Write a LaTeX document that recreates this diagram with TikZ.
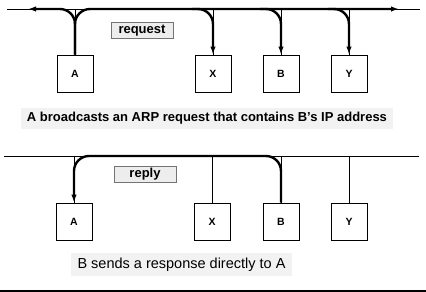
\documentclass[tikz,border=0pt]{standalone}
\usepackage{fontspec}
\setmainfont{Liberation Sans}
\usetikzlibrary{arrows.meta}
\begin{document}
\begin{tikzpicture}[x=1pt,y=-1pt,
  host/.style={draw,line width=0.8pt,minimum width=36pt,minimum height=37pt,inner sep=0pt,font=\fontsize{10.5}{12}\selectfont\bfseries},
  thin/.style={line width=0.8pt},
  heavy/.style={line width=2.4pt,rounded corners=15pt},
  tip/.style={-{Latex[length=8pt,width=5.5pt]}},
  tag/.style={draw=black!55,fill=black!7,line width=0.6pt,minimum width=62pt,minimum height=16pt,inner sep=0pt,font=\fontsize{13}{14}\selectfont\bfseries},
  caption/.style={fill=black!5,inner sep=0pt}]
\useasboundingbox (0,0) rectangle (426,292);
% top
\coordinate (bl1) at (7,9);
\coordinate (br1) at (420,9);
\coordinate (tl1) at (28,9);
\coordinate (tr1) at (399,9);
\coordinate (sx) at (192,9);
\coordinate (sb) at (260,9);
\coordinate (sy) at (328,9);
\node[host] (A1) at (75,73.5) {A};
\node[host] (X1) at (213,73.5) {X};
\node[host] (B1) at (281,73.5) {B};
\node[host] (Y1) at (349,73.5) {Y};
\draw[thin] (bl1) -- (br1);
\foreach \n in {A1,X1,B1,Y1} \draw[thin] (\n.north) -- (\n.north |- bl1);
\draw[heavy,tip] (A1.north) |- (tl1);
\draw[heavy,tip] (A1.north) |- (tr1);
\draw[heavy,tip] (sx) -| (X1.north);
\draw[heavy,tip] (sb) -| (B1.north);
\draw[heavy,tip] (sy) -| (Y1.north);
\node[tag] (req) at (142,30.5) {request};
\node[caption,minimum width=372pt,minimum height=21pt] (cap1) at (207,118.5)
  {\fontsize{13}{15}\selectfont\bfseries A broadcasts an ARP request that contains B’s IP address};
% bottom
\coordinate (bl2) at (4,156);
\coordinate (br2) at (419,156);
\node[host] (A2) at (74,221.5) {A};
\node[host] (X2) at (212,221.5) {X};
\node[host] (B2) at (281,221.5) {B};
\node[host] (Y2) at (349,221.5) {Y};
\draw[thin] (bl2) -- (br2);
\foreach \n in {A2,X2,B2,Y2} \draw[thin] (\n.north) -- (\n.north |- bl2);
\draw[heavy,tip] (B2.north) |- (A2.north |- bl2) -- (A2.north);
\node[tag] (rep) at (145,174.5) {reply};
\node[caption,minimum width=221pt,minimum height=23pt] (cap2) at (181.5,264.5)
  {\fontsize{14.5}{16}\selectfont B sends a response directly to A};
\coordinate (fl) at (0,291);
\coordinate (fr) at (426,291);
\draw[line width=2pt] (fl) -- (fr);
\end{tikzpicture}
\end{document}
